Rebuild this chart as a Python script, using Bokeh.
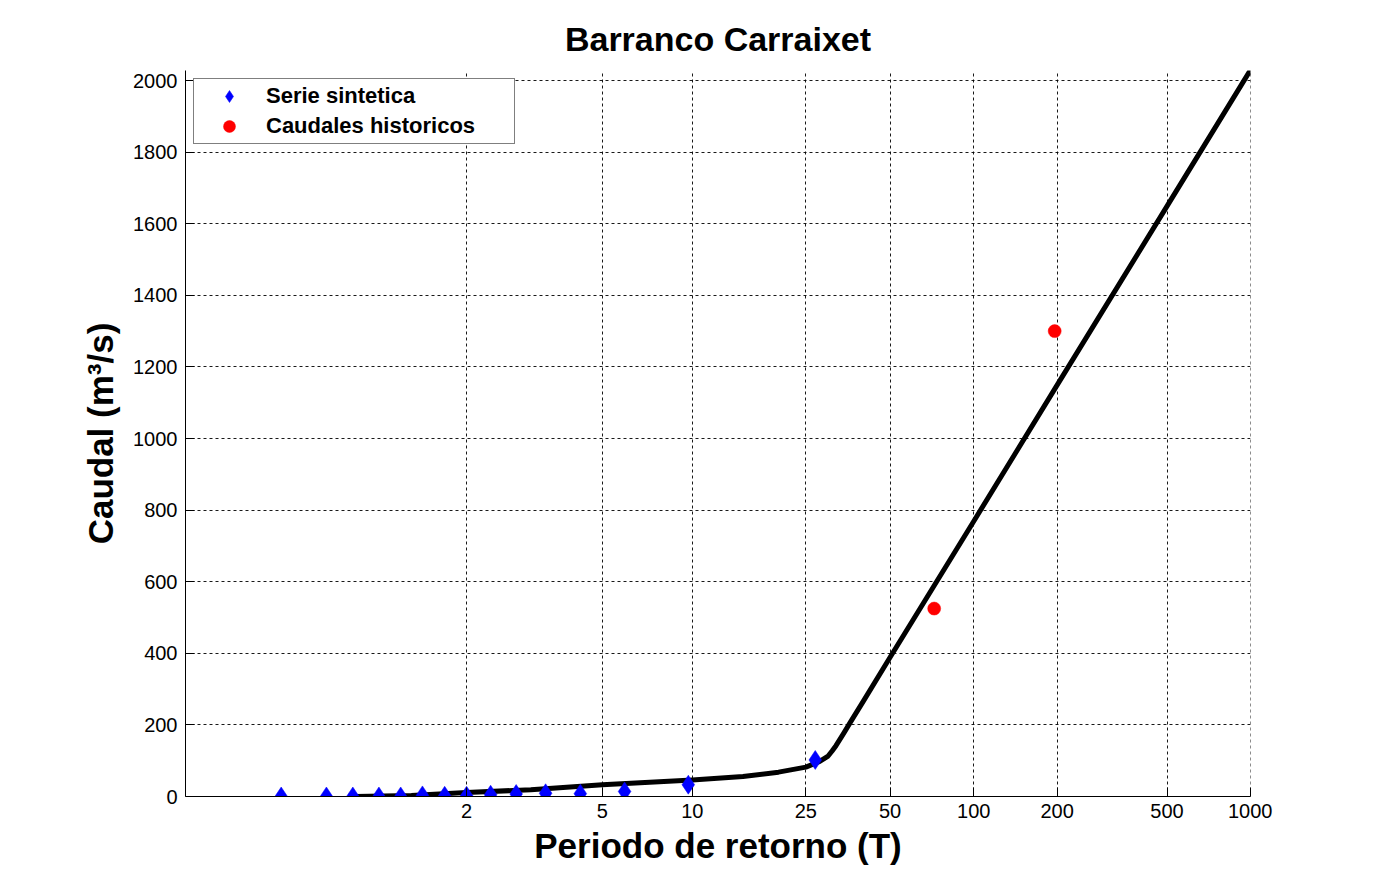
import numpy as np
from bokeh.plotting import figure
from bokeh.models import Range1d, FixedTicker, CustomJSTickFormatter, Legend, LegendItem
from bokeh.embed import file_html
from bokeh.resources import INLINE

# ---------------- data ----------------
title_text = "Barranco Carraixet"
x_label = "Periodo de retorno (T)"
y_label = "Caudal (m³/s)"

x_tick_T = [2, 5, 10, 25, 50, 100, 200, 500, 1000]
y_ticks = [0, 200, 400, 600, 800, 1000, 1200, 1400, 1600, 1800, 2000]

serie_T = [1.04, 1.12, 1.20, 1.31, 1.43, 1.58, 1.77, 2.00, 2.31, 2.72, 3.32, 4.25, 5.91, 9.69, 27.0]
serie_Q = [0, 0, 0, 0, 0, 3, 2, 2, 5, 7, 9, 8, 14, 33, 102]

hist_T = [72, 196]
hist_Q = [525, 1300]

curve_T = [1.21, 1.5, 2, 3, 4.5, 5, 10, 15, 20, 25, 28, 30, 31, 32, 34, 36, 40, 50, 100, 200, 500, 1000]
curve_Q = [0, 3, 11, 19, 30, 33, 46, 56, 68, 82, 98, 113, 127, 142, 175, 207, 265, 389, 769, 1149, 1649, 2028]


def gumbel(T):
    """Gumbel reduced variate: probability-paper x-scale."""
    T = np.asarray(T, dtype=float)
    return -np.log(-np.log(1.0 - 1.0 / T))


FONT = "Liberation Sans"

p = figure(
    width=1372, height=878,
    output_backend="svg", toolbar_location=None,
    x_range=Range1d(-1.98, float(gumbel(1000)) + 0.003),
    y_range=Range1d(0, 2028),
    min_border_left=185, min_border_right=122,
    min_border_top=70, min_border_bottom=82,
    background_fill_color="white", border_fill_color="white",
)
p.outline_line_color = None

# title
p.title.text = title_text
p.title.align = "center"
p.title.text_font = FONT
p.title.text_font_size = "34px"
p.title.text_font_style = "bold"
p.title.text_color = "black"
p.title.standoff = 25

# axes
x_ticks = [float(v) for v in gumbel(x_tick_T)]
p.xaxis.ticker = FixedTicker(ticks=x_ticks)
p.xaxis.formatter = CustomJSTickFormatter(code="""
    const T = 1.0 / (1.0 - Math.exp(-Math.exp(-tick)));
    return String(Math.round(T));
""")
p.yaxis.ticker = FixedTicker(ticks=y_ticks)

for ax in (p.xaxis[0], p.yaxis[0]):
    ax.axis_line_color = "black"
    ax.axis_line_width = 1
    ax.major_tick_line_color = "black"
    ax.major_tick_in = 9
    ax.major_tick_out = 0
    ax.minor_tick_line_color = None
    ax.major_label_text_font = FONT
    ax.major_label_text_font_size = "20px"
    ax.major_label_text_color = "black"
    ax.axis_label_text_font = FONT
    ax.axis_label_text_font_style = "bold"
    ax.axis_label_text_font_size = "35px"
    ax.axis_label_text_color = "black"

p.xaxis.axis_label = x_label
p.yaxis.axis_label = y_label
p.xaxis.major_label_standoff = 7
p.yaxis.major_label_standoff = 8
p.xaxis.axis_label_standoff = 5
p.yaxis.axis_label_standoff = 10

# grid
for g in (p.xgrid[0], p.ygrid[0]):
    g.grid_line_color = "black"
    g.grid_line_dash = "3 3"
    g.grid_line_width = 1
    g.grid_line_alpha = 0.9

# curve
p.line(gumbel(curve_T), curve_Q, line_color="black", line_width=5,
       line_join="round", line_cap="round")

# points
r_serie = p.scatter(gumbel(serie_T), serie_Q, marker="diamond", size=19,
                    fill_color="#0000ff", line_color="#0000ff", line_width=0.5)
r_hist = p.scatter(gumbel(hist_T), hist_Q, marker="circle", size=13,
                   fill_color="#ff0000", line_color="#ff0000", line_width=0.5)

legend = Legend(items=[
    LegendItem(label="Serie sintetica", renderers=[r_serie]),
    LegendItem(label="Caudales historicos", renderers=[r_hist]),
])
legend.location = "top_left"
legend.margin = 8
legend.padding = 2
legend.spacing = 0
legend.glyph_width = 66
legend.glyph_height = 30
legend.label_height = 30
legend.label_width = 246
legend.label_standoff = 4
legend.label_text_font = FONT
legend.label_text_font_style = "bold"
legend.label_text_font_size = "22px"
legend.label_text_color = "black"
legend.border_line_color = "black"
legend.border_line_width = 1
legend.background_fill_color = "white"
legend.background_fill_alpha = 1.0
p.add_layout(legend)

open("out.html", "w").write(file_html(p, INLINE))
